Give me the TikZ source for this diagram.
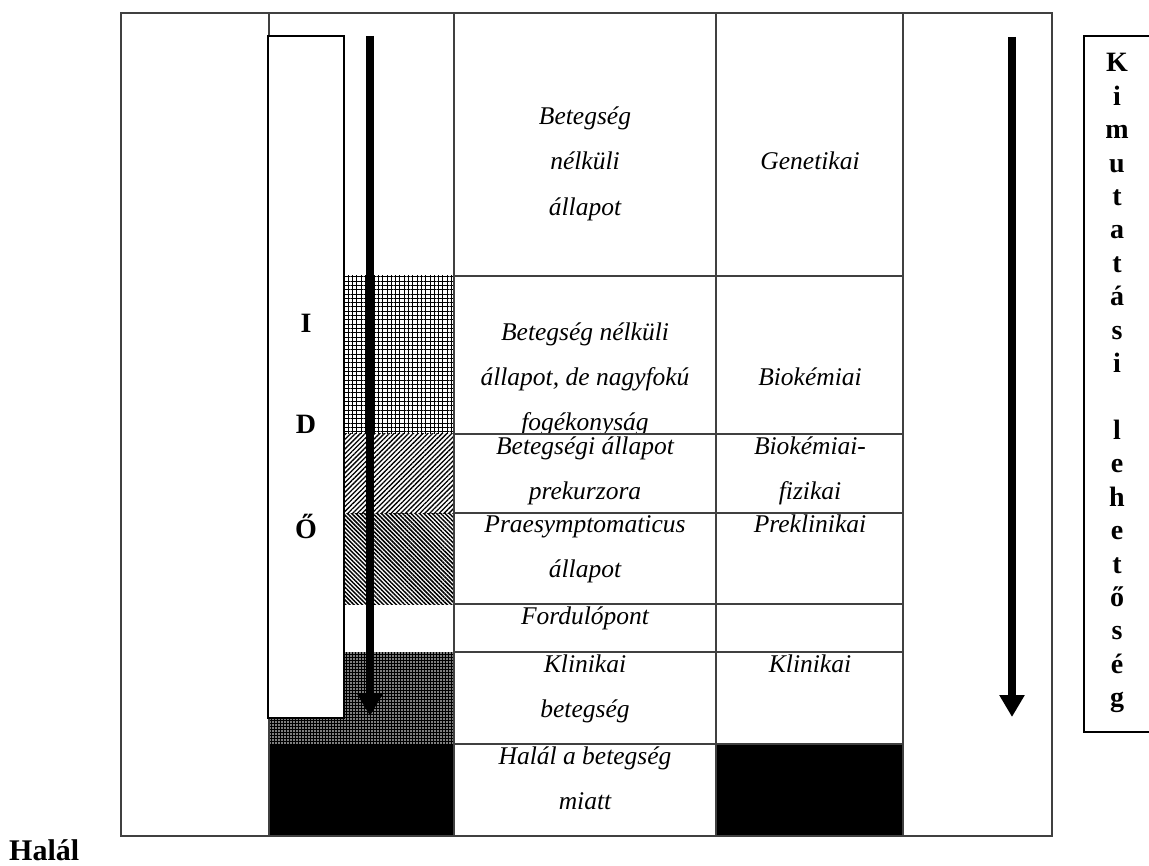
\documentclass[tikz,border=0pt]{standalone}
\usepackage{fontspec}
\setmainfont{Liberation Serif}
\usetikzlibrary{patterns.meta,arrows.meta}

\begin{document}
\begin{tikzpicture}[x=1pt,y=-1pt,
  rule/.style={draw=black!75, line width=1.1pt},
  celltext/.style={font=\fontsize{25.5}{30}\selectfont\itshape, anchor=mid, inner sep=0pt},
  bigletter/.style={font=\fontsize{28}{33}\selectfont\bfseries, anchor=base, inner sep=0pt},
  framebox/.style={draw=black, line width=2pt, fill=white},
  timearrow/.style={line width=8pt, -{Triangle[width=24pt,length=22pt]}},
]
\clip (0,0) rectangle (1149,866);
\fill[white] (0,0) rectangle (1149,866);

% shaded stages along the time column
\fill[pattern={Hatch[angle=0,distance=4.3pt,line width=1pt]}] (344,276) rectangle (454,434);
\fill[pattern={Lines[angle=45,distance=3.4pt,line width=1.3pt]}] (344,434) rectangle (454,513);
\fill[pattern={Lines[angle=-45,distance=3pt,line width=1.5pt]}] (344,513) rectangle (454,604);
\fill[black] (269,652) rectangle (454,744);
\fill[pattern={Dots[distance=3pt,radius=0.8pt]}, pattern color=white] (269,652) rectangle (454,744);
\fill[black] (269,744) rectangle (454,836);
\fill[black] (716,744) rectangle (903,836);

% table rules
\draw[rule] (121,13) rectangle (1052,836);
\foreach \x in {269,454,716,903}
  \draw[rule] (\x,13) -- (\x,836);
\foreach \y in {276,434,513,604,652,744}
  \draw[rule] (454,\y) -- (903,\y);

% time box
\draw[framebox] (268,36) rectangle (344,718);
\node[bigletter] (idoI) at (306,333) {I};
\node[bigletter] (idoD) at (306,434) {D};
\node[bigletter] (idoO) at (306,538) {Ő};

% time arrows
\coordinate (ta0) at (370,36);
\coordinate (ta1) at (370,716);
\draw[timearrow] (ta0) -- (ta1);
\coordinate (da0) at (1012,37);
\coordinate (da1) at (1012,717);
\draw[timearrow] (da0) -- (da1);

% stage names
\node[celltext] (s1a) at (585,122) {Betegség};
\node[celltext] (s1b) at (585,167) {nélküli};
\node[celltext] (s1c) at (585,213) {állapot};
\node[celltext] (m1) at (810,167) {Genetikai};

\begin{scope}
  \clip (455,277) rectangle (715,433);
  \node[celltext] (s2a) at (585,338) {Betegség nélküli};
  \node[celltext] (s2b) at (585,383) {állapot, de nagyfokú};
  % last line runs past the cell and is cut by the next row
  \node[celltext] (s2c) at (585,428) {\raisebox{0pt}[\height][0pt]{fogékonyság}};
\end{scope}
\node[celltext] (m2) at (810,383) {Biokémiai};

\node[celltext] (s3a) at (585,452) {Betegségi állapot};
\node[celltext] (s3b) at (585,497) {prekurzora};
\node[celltext] (m3a) at (810,452) {Biokémiai-};
\node[celltext] (m3b) at (810,497) {fizikai};

\node[celltext] (s4a) at (585,530) {Praesymptomaticus};
\node[celltext] (s4b) at (585,575) {állapot};
\node[celltext] (m4) at (810,530) {Preklinikai};

\node[celltext] (s5) at (585,622) {Fordulópont};

\node[celltext] (s6a) at (585,670) {Klinikai};
\node[celltext] (s6b) at (585,715) {betegség};
\node[celltext] (m6) at (810,670) {Klinikai};

\node[celltext] (s7a) at (585,762) {Halál a betegség};
\node[celltext] (s7b) at (585,807) {miatt};

% detection box
\draw[framebox] (1084,36) rectangle (1170,732);
\foreach \c/\n in {K/0,i/1,m/2,u/3,t/4,a/5,t/6,á/7,s/8,i/9,
                   l/11,e/12,h/13,e/14,t/15,ő/16,s/17,é/18,g/19}
  \node[bigletter] (k\n) at (1117,{72+33.4*\n}) {\c};

% end point label
\node[font=\fontsize{30}{36}\selectfont\bfseries, anchor=base west, inner sep=0pt] (halal) at (9,860) {Halál};
\end{tikzpicture}
\end{document}
